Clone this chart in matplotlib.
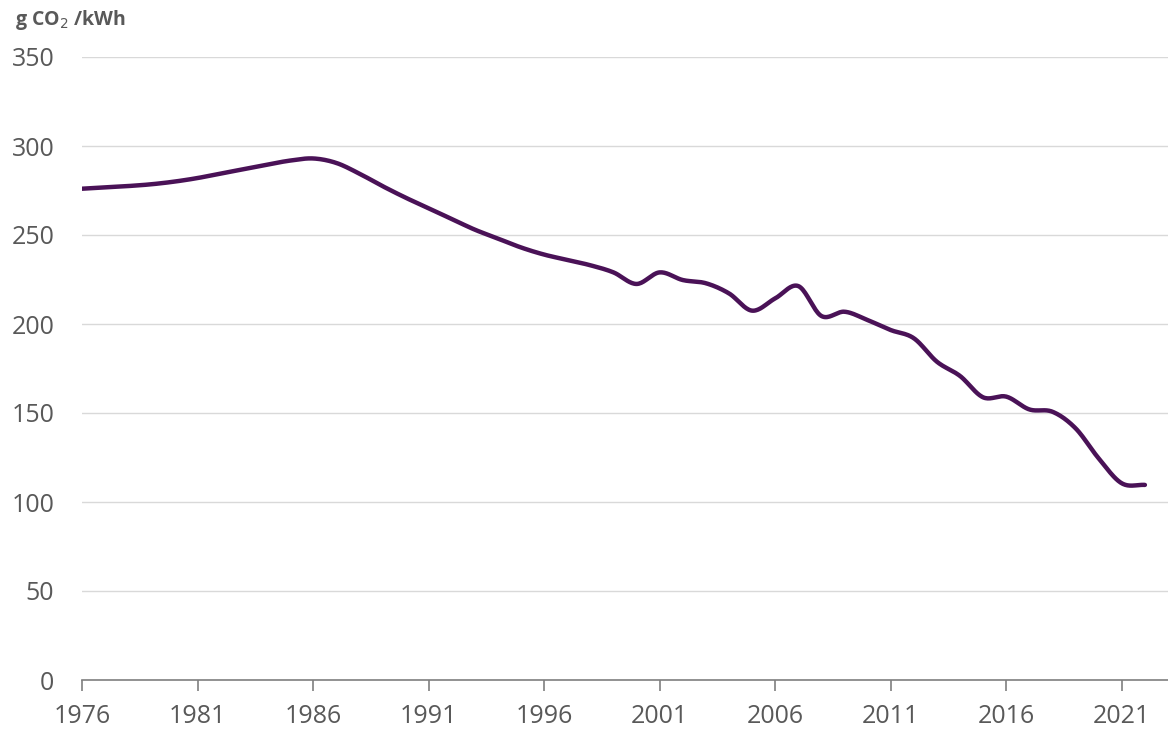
import matplotlib
matplotlib.use("Agg")
import matplotlib.pyplot as plt
import numpy as np

plt.rcParams["font.family"] = ["Open Sans", "DejaVu Sans"]

years = list(range(1976, 2023))
intensity = [276, 276.8, 277.5, 278.5, 280, 282, 284.5, 287, 289.5, 291.8, 293,
             290.5, 284.5, 277.5, 271, 265, 259, 253, 248, 243, 239, 236, 233,
             229, 222.5, 229, 224.7, 222.9, 217.2, 207.5, 214.4, 221.3, 204.5,
             206.9, 202.2, 196.6, 192, 178.8, 170.8, 158.8, 159.2, 152, 150.7,
             141.4, 124.5, 110.5, 109.6]
tick_years = list(range(1976, 2022, 5))
y_ticks = list(range(0, 351, 50))

GREY = "#595959"
PURPLE = "#4a1257"


def smooth(x, y, n=20):
    """Catmull-Rom smoothing, like Excel's smoothed line."""
    x = np.asarray(x, float); y = np.asarray(y, float)
    px = np.concatenate([[2 * x[0] - x[1]], x, [2 * x[-1] - x[-2]]])
    py = np.concatenate([[2 * y[0] - y[1]], y, [2 * y[-1] - y[-2]]])
    t = np.linspace(0, 1, n, endpoint=False)
    xs, ys = [], []
    for i in range(1, len(px) - 2):
        for p, out in ((px, xs), (py, ys)):
            p0, p1, p2, p3 = p[i - 1], p[i], p[i + 1], p[i + 2]
            out.extend(0.5 * (2 * p1 + (-p0 + p2) * t
                              + (2 * p0 - 5 * p1 + 4 * p2 - p3) * t ** 2
                              + (-p0 + 3 * p1 - 3 * p2 + p3) * t ** 3))
    xs.append(x[-1]); ys.append(y[-1])
    return np.array(xs), np.array(ys)


fig = plt.figure(figsize=(11.68, 7.35), dpi=100)
ax = fig.add_axes([82 / 1168, 1 - 680 / 735, (1168 - 82) / 1168, (680 - 57) / 735])

sx, sy = smooth(years, intensity)
ax.plot(sx, sy, color=PURPLE, lw=3.2, solid_capstyle="round", zorder=3)

ax.set_xlim(1976, 2023)
ax.set_ylim(0, 350)
ax.set_yticks(y_ticks)
ax.set_xticks(tick_years)
ax.yaxis.grid(True, color="#d9d9d9", lw=1)
ax.set_axisbelow(True)
for s in ("top", "right", "left"):
    ax.spines[s].set_visible(False)
ax.spines["bottom"].set_color("#7f7f7f")
ax.spines["bottom"].set_linewidth(1.2)
ax.tick_params(axis="y", length=0, pad=20, labelsize=18, labelcolor=GREY)
ax.tick_params(axis="x", length=8, width=1.2, color="#7f7f7f", pad=9,
               labelsize=18, labelcolor=GREY)

fig.text(15 / 1168, 1 - 20 / 735, "g CO$_2$ /kWh", fontsize=14, fontweight="bold",
         color=GREY, va="center", ha="left")

fig.savefig("out.png", dpi=100)
